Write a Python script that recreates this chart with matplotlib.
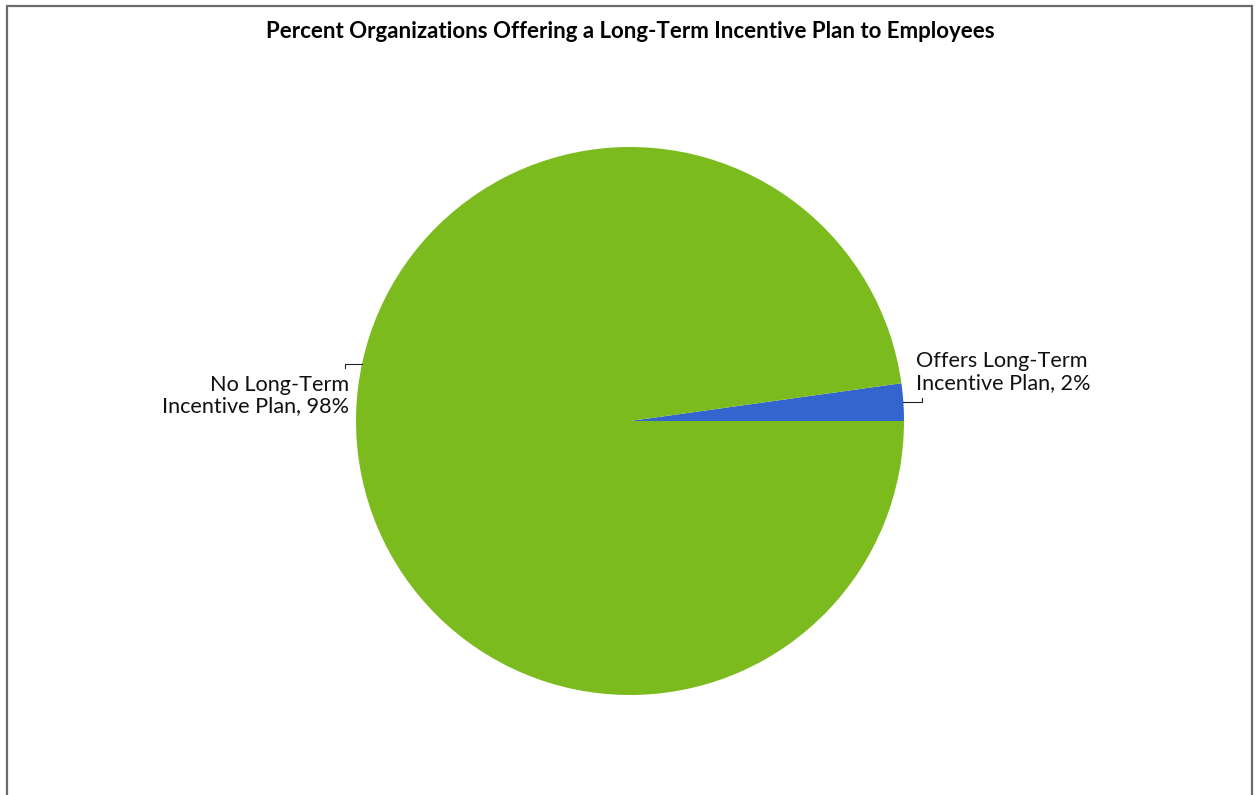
import matplotlib.pyplot as plt
import numpy as np
from matplotlib.patches import Rectangle

categories = ['Offers Long-Term\nIncentive Plan', 'No Long-Term\nIncentive Plan']
values = [2.2, 97.8]
colors = ['#3465cf', '#7bbb1e']

W, H = 1258, 795
fig = plt.figure(figsize=(W / 100, H / 100), dpi=100)

# pie sits in a square box, centre (630, 421) px, radius 274 px
cx, cy, r = 630, 421, 274
ax = fig.add_axes([(cx - r) / W, (H - cy - r) / H, 2 * r / W, 2 * r / H])
wedges, _ = ax.pie(values, colors=colors, startangle=0, counterclock=True,
                   radius=1, wedgeprops=dict(linewidth=0))
ax.set_xlim(-1, 1)
ax.set_ylim(-1, 1)
ax.set_axis_off()

px = 1.0 / r
total = sum(values)
labels = ['{}, {:.0f}%'.format(c, v / total * 100) for c, v in zip(categories, values)]
lab_font = dict(fontsize=15.6, family='Lato', linespacing=1.1, color='#111111')

# right label (small slice) - leader from mid angle
mid = np.deg2rad(values[0] / total * 360 / 2)
x0, y0 = np.cos(mid), np.sin(mid)
ax.plot([x0, x0 + 19 * px, x0 + 19 * px], [y0, y0, y0 + 4 * px],
        color='#222222', lw=0.8, clip_on=False)
ax.text((916 - cx) * px, (cy - 372) * px, labels[0], ha='left', va='center',
        **lab_font)

# left label
a = np.deg2rad(168)
x1, y1 = np.cos(a), np.sin(a)
ax.plot([x1, x1 - 17 * px, x1 - 17 * px], [y1, y1, y1 - 4 * px],
        color='#222222', lw=0.8, clip_on=False)
ax.text((349 - cx) * px, (cy - 395.5) * px, labels[1], ha='right', va='center',
        multialignment='right', **lab_font)

fig.text(630 / W, 1 - 32 / H,
         'Percent Organizations Offering a Long-Term Incentive Plan to Employees',
         ha='center', va='center', fontsize=16, fontweight='bold', family='Lato')

# chart frame (open at the bottom)
fig.patches.append(Rectangle((7 / W, -0.1), (1252 - 7) / W, 1.1 - 5.5 / H,
                             transform=fig.transFigure, fill=False,
                             edgecolor='#6b6b6b', linewidth=1.6))

fig.savefig('out.png', dpi=100)
